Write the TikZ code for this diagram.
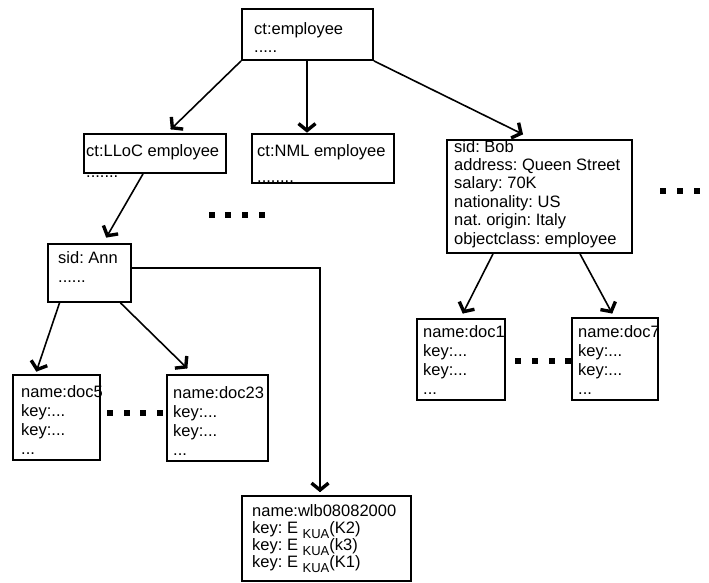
\documentclass[tikz,border=0pt]{standalone}
\usepackage{fontspec}
\setmainfont{Liberation Sans}
\usetikzlibrary{decorations.markings,calc}
% four lines of a document entry: name, two keys and an ellipsis
\newcommand\docentry[4]{%
  \node[txt] (#1a) at (#2,#3) {#4};
  \node[txt] (#1b) at (#2,#3+19) {key:...};
  \node[txt] (#1c) at (#2,#3+38) {key:...};
  \node[txt] (#1d) at (#2,#3+57) {...};}
\newcommand\kua{\raisebox{-5pt}{\fontsize{13}{13}\selectfont KUA}}
\begin{document}
\frenchspacing
\begin{tikzpicture}[x=1pt,y=-1pt,
  box/.style 2 args={draw, line width=1.8pt, inner sep=0pt,
    minimum width=#1, minimum height=#2},
  txt/.style={inner sep=0pt, anchor=base west,
    font=\fontsize{16.5}{18}\selectfont},
  % thin shaft ending in a bold open V head
  link/.style={line width=1.6pt, postaction={decorate, decoration={markings,
    mark=at position 1 with {\draw[line width=3.4pt, line join=miter]
      (-8.5pt,8.5pt) -- (-1.6pt,0pt) -- (-8.5pt,-8.5pt);}}}}]
\useasboundingbox (0,0) rectangle (709,583);

% boxes of the directory tree
\node[box={131pt}{51pt}] (emp)   at (307.5,34.5) {};
\node[box={142pt}{39pt}] (lloc)  at (155,153.5)  {};
\node[box={142pt}{49pt}] (nml)   at (323,158.5)  {};
\node[box={185pt}{113pt}] (bob)  at (539.5,196.5) {};
\node[box={83pt}{58pt}]  (ann)   at (89.5,273)   {};
\node[box={87pt}{85pt}]  (doc5)  at (56.5,417.5) {};
\node[box={101pt}{86pt}] (doc23) at (217.5,418)  {};
\node[box={88pt}{81pt}]  (doc1)  at (461,359.5)  {};
\node[box={86pt}{82pt}]  (doc7)  at (615,359)    {};
\node[box={169pt}{85pt}] (wlb)   at (326.5,538.5) {};

% entry texts
\node[txt] (empa) at (254,35) {ct:employee};
\node[txt] (empb) at (254,53) {.....};
\node[txt] (lloca) at (86,157) {ct:LLoC employee};
\node[txt] (llocb) at (86,177) {.......};
\node[txt] (nmla) at (257,157) {ct:NML employee};
\node[txt] (nmlb) at (257,182) {........};
\node[txt] (boba) at (454,152) {sid: Bob};
\node[txt] (bobb) at (454,170.4) {address: Queen Street};
\node[txt] (bobc) at (454,188.8) {salary: 70K};
\node[txt] (bobd) at (454,207.2) {nationality: US};
\node[txt] (bobe) at (454,225.6) {nat. origin: Italy};
\node[txt] (bobf) at (454,244) {objectclass: employee};
\node[txt] (anna) at (58,263) {sid: Ann};
\node[txt] (annb) at (58,282) {......};
\docentry{dfive}{21}{397}{name:doc5}
\docentry{dtwenty}{173}{398}{name:doc23}
\docentry{done}{423}{337}{name:doc1}
\docentry{dseven}{578}{337}{name:doc7}
\node[txt] (wlba) at (252,516) {name:wlb08082000};
\node[txt] (wlbb) at (252,533) {key: E \kua(K2)};
\node[txt] (wlbc) at (252,550) {key: E \kua(k3)};
\node[txt] (wlbd) at (252,567) {key: E \kua(K1)};

% connectors
\draw[link] (emp.south west) -- ([xshift=16pt,yshift=4pt]lloc.north);
\draw[link] ([xshift=-0.5pt]emp.south) -- ([xshift=-16pt,yshift=1pt]nml.north);
\draw[link] (emp.south east) -- ([xshift=-17pt,yshift=5pt]bob.north);
\draw[link] ([xshift=-12pt]lloc.south) -- ([xshift=17pt,yshift=6pt]ann.north);
\draw[link] ([xshift=-30pt]ann.south) -- ([xshift=-20pt,yshift=3pt]doc5.north);
\draw[link] ([xshift=31pt]ann.south) -- ([xshift=-30.5pt,yshift=6pt]doc23.north);
\draw[link] ([yshift=5pt]ann.east) -| ([xshift=-6.5pt,yshift=3.5pt]wlb.north);
\draw[link] ([xshift=-46.5pt]bob.south) -- ([xshift=2pt,yshift=5pt]doc1.north);
\draw[link] ([xshift=40.5pt]bob.south) -- ([xshift=-3pt,yshift=4pt]doc7.north);

% square ellipsis marks
\foreach \x/\y in {212/215, 228/215, 245/215, 262/215,
    110/413, 127/413, 143/413, 160/413,
    518/361, 535/361, 552/361, 568/361,
    663/191, 680/191, 697/191}
  \fill (\x-3,\y-3) rectangle (\x+3,\y+3);
\end{tikzpicture}
\end{document}
